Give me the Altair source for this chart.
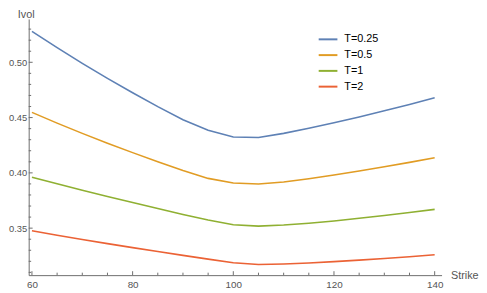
import altair as alt
import pandas as pd

strikes = [60, 65, 70, 75, 80, 85, 90, 95, 100, 105, 110, 115, 120, 125, 130, 135, 140]
vol_t025 = [0.528, 0.5132, 0.499, 0.4854, 0.4724, 0.4599, 0.4481, 0.4385, 0.4325, 0.432,
            0.4357, 0.4404, 0.4454, 0.4506, 0.4561, 0.4619, 0.468]
vol_t05 = [0.4547, 0.445, 0.4357, 0.4268, 0.4183, 0.4101, 0.4022, 0.395, 0.3908, 0.3899,
           0.3917, 0.3946, 0.398, 0.4017, 0.4055, 0.4095, 0.4137]
vol_t1 = [0.3961, 0.3901, 0.3843, 0.3786, 0.3731, 0.3677, 0.3624, 0.3573, 0.353, 0.3518,
          0.3528, 0.3544, 0.3565, 0.3589, 0.3615, 0.3642, 0.367]
vol_t2 = [0.3476, 0.3436, 0.3397, 0.336, 0.3324, 0.3289, 0.3254, 0.322, 0.3187, 0.3172,
          0.3176, 0.3185, 0.3197, 0.3211, 0.3226, 0.3242, 0.3259]

series_names = ["T=0.25", "T=0.5", "T=1", "T=2"]
series_vals = [vol_t025, vol_t05, vol_t1, vol_t2]
colors = ["#5E81B5", "#E19C24", "#8FB032", "#EB6235"]

x_major = [60, 80, 100, 120, 140]
x_minor = [65, 70, 75, 85, 90, 95, 105, 110, 115, 125, 130, 135]
y_major = [0.35, 0.40, 0.45, 0.50]
y_minor = [0.31, 0.32, 0.33, 0.34, 0.36, 0.37, 0.38, 0.39, 0.41, 0.42, 0.43, 0.44,
           0.46, 0.47, 0.48, 0.49, 0.51, 0.52, 0.53]

rows = []
for name, vals in zip(series_names, series_vals):
    for k, v in zip(strikes, vals):
        rows.append({"Strike": k, "Ivol": v, "T": name})
df = pd.DataFrame(rows)

W, H = 419, 260
AX = "#6e6e6e"
FONT = "Liberation Sans"

xs = alt.Scale(domain=[59.354, 141.37], nice=False, zero=False)
ys = alt.Scale(domain=[0.3075, 0.5392], nice=False, zero=False)

xaxis = alt.Axis(values=x_major, ticks=False, tickSize=0, grid=False, domainColor=AX,
                 labelColor="#555555", labelFont=FONT, labelFontSize=10, labelPadding=5,
                 title="Strike", titleX=W + 9, titleY=0, titleAngle=0, titleAlign="left",
                 titleBaseline="middle", titleFont=FONT, titleFontSize=11,
                 titleFontWeight="normal", titleColor="#555555")
yaxis = alt.Axis(values=y_major, format=".2f", ticks=False, tickSize=0, grid=False,
                 domainColor=AX, labelColor="#555555", labelFont=FONT, labelFontSize=9.5,
                 labelPadding=2, title="Ivol", titleX=-3, titleY=-1, titleAngle=0,
                 titleAlign="center", titleBaseline="alphabetic", titleFont=FONT,
                 titleFontSize=11, titleFontWeight="normal", titleColor="#555555")

lines = alt.Chart(df).mark_line(strokeWidth=1.6).encode(
    x=alt.X("Strike:Q", scale=xs, axis=xaxis),
    y=alt.Y("Ivol:Q", scale=ys, axis=yaxis),
    color=alt.Color("T:N", scale=alt.Scale(domain=series_names, range=colors),
                    sort=series_names,
                    legend=alt.Legend(title=None, orient="none", legendX=293.3, legendY=10.2,
                                      symbolType="stroke", symbolSize=361,
                                      symbolStrokeWidth=2, labelFont=FONT,
                                      labelFontSize=11, labelColor="black",
                                      rowPadding=0, labelOffset=6, padding=0)),
    order=alt.Order("Strike:Q"),
)

xmaj = alt.Chart(pd.DataFrame({"Strike": x_major})).mark_rule(color=AX, strokeWidth=1).encode(
    x=alt.X("Strike:Q", scale=xs), y=alt.value(H), y2=alt.value(H - 4))
xmin = alt.Chart(pd.DataFrame({"Strike": x_minor})).mark_rule(color=AX, strokeWidth=1).encode(
    x=alt.X("Strike:Q", scale=xs), y=alt.value(H), y2=alt.value(H - 2.5))
ymaj = alt.Chart(pd.DataFrame({"Ivol": y_major})).mark_rule(color=AX, strokeWidth=1).encode(
    y=alt.Y("Ivol:Q", scale=ys), x=alt.value(0), x2=alt.value(4))
ymin = alt.Chart(pd.DataFrame({"Ivol": y_minor})).mark_rule(color=AX, strokeWidth=1).encode(
    y=alt.Y("Ivol:Q", scale=ys), x=alt.value(0), x2=alt.value(2.5))

chart = alt.layer(lines, xmaj, xmin, ymaj, ymin).properties(
    width=W, height=H,
    autosize=alt.AutoSizeParams(type="none"),
    padding={"left": 21, "top": 9, "right": 38, "bottom": 15},
    background="white",
).configure_view(stroke=None)

chart.save("out.html", embed_options={"renderer": "svg", "actions": False})
